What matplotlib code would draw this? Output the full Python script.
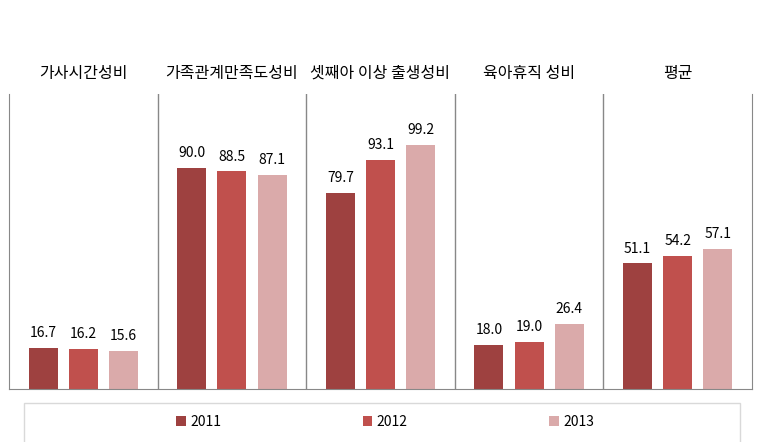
import matplotlib.pyplot as plt
from matplotlib.patches import Rectangle
import numpy as np

plt.rcParams['font.family'] = ['Noto Sans CJK KR', 'DejaVu Sans']

# data
categories = ['가사시간성비', '가족관계만족도성비', '셋째아 이상 출생성비', '육아휴직 성비', '평균']
years = ['2011', '2012', '2013']
v2011 = [16.7, 90.0, 79.7, 18.0, 51.1]
v2012 = [16.2, 88.5, 93.1, 19.0, 54.2]
v2013 = [15.6, 87.1, 99.2, 26.4, 57.1]
colors = ['#9E4140', '#C0504D', '#DAAAAA']

W, H = 776, 442
fig = plt.figure(figsize=(W / 100, H / 100), dpi=100)
ax = fig.add_axes([9 / W, (H - 389) / H, (752 - 9) / W, (389 - 94) / H])

x = np.arange(len(categories))
offsets = [-0.27, 0, 0.27]
series = [v2011, v2012, v2013]
for off, vals, c, yr in zip(offsets, series, colors, years):
    bars = ax.bar(x + off, vals, width=0.195, color=c, label=yr)
    for b, v in zip(bars, vals):
        ax.text(b.get_x() + b.get_width() / 2, v + 3.2, f'{v:.1f}',
                ha='center', va='bottom', fontsize=10)

ax.set_xlim(-0.5, len(categories) - 0.5)
ax.set_ylim(0, 120)
ax.set_xticks([])
ax.set_yticks([])
ax.spines['top'].set_visible(False)
for s in ['left', 'right', 'bottom']:
    ax.spines[s].set_color('#888888')
for i in range(1, len(categories)):
    ax.axvline(i - 0.5, color='#888888', lw=1)

# panel titles
for i, cat in enumerate(categories):
    ax.text(i, 1.07, cat, transform=ax.get_xaxis_transform(),
            ha='center', va='center', fontsize=11.5)

# legend box
fig.patches.append(Rectangle((24 / W, -0.01), (740 - 24) / W, (H - 403) / H + 0.01,
                             transform=fig.transFigure, fill=False,
                             edgecolor='#D9D9D9', lw=1))
fig.legend(loc='center', bbox_to_anchor=(385 / W, (H - 422) / H), ncol=3,
           frameon=False, fontsize=10, handlelength=0.7, handleheight=0.7,
           handletextpad=0.3, columnspacing=10.2)

fig.savefig('out.png', dpi=100)
